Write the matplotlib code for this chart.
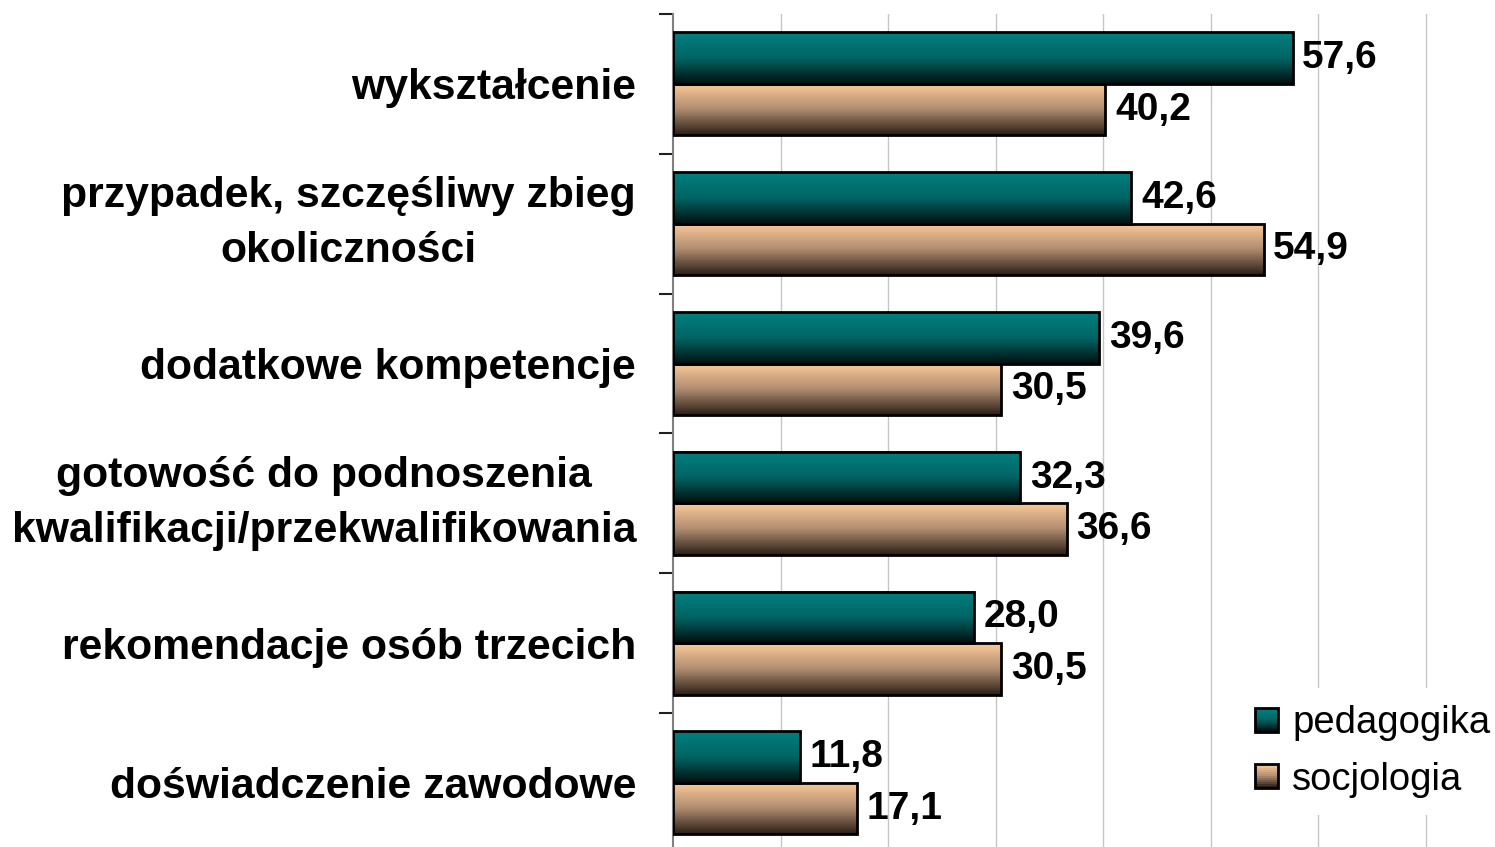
import numpy as np
import matplotlib.pyplot as plt
from matplotlib.colors import LinearSegmentedColormap
from matplotlib.patches import Rectangle, Patch
from matplotlib.legend_handler import HandlerBase

plt.rcParams['font.family'] = ['Liberation Sans', 'DejaVu Sans']

kategorie = [
    'wykształcenie',
    'przypadek, szczęśliwy zbieg\nokoliczności',
    'dodatkowe kompetencje',
    'gotowość do podnoszenia\nkwalifikacji/przekwalifikowania',
    'rekomendacje osób trzecich',
    'doświadczenie zawodowe',
]
pedagogika = [57.6, 42.6, 39.6, 32.3, 28.0, 11.8]
socjologia = [40.2, 54.9, 30.5, 36.6, 30.5, 17.1]
serie = ['pedagogika', 'socjologia']

cmap_ped = LinearSegmentedColormap.from_list('ped', ['#008080', '#006464', '#000e0e'])
cmap_soc = LinearSegmentedColormap.from_list('soc', ['#fccb99', '#b08c70', '#2a1e15'])


class KwadratGradient(HandlerBase):
    # kwadracik legendy z gradientem jak na slupkach
    def __init__(self, cmap):
        super().__init__()
        self.cmap = cmap

    def create_artists(self, legend, orig_handle, xdescent, ydescent, width, height, fontsize, trans):
        n = 12
        out = []
        for k in range(n):
            out.append(Rectangle((-xdescent, -ydescent + height * (n - 1 - k) / n), width, height / n,
                                 facecolor=self.cmap(k / (n - 1)), edgecolor='none', transform=trans))
        out.append(Rectangle((-xdescent, -ydescent), width, height, fill=False,
                             edgecolor='black', lw=2, transform=trans))
        return out


fig = plt.figure(figsize=(14.95, 8.47), dpi=100)
ax = fig.add_axes([673 / 1495, -0.00685, 860.6 / 1495, 838.8 / 847])

y = np.arange(len(kategorie))
h = 0.368
grad = np.linspace(0, 1, 256).reshape(-1, 1)

for wartosci, przes, cmap in [(pedagogika, -h / 2, cmap_ped), (socjologia, h / 2, cmap_soc)]:
    bars = ax.barh(y + przes, wartosci, height=h, fill=False, edgecolor='black', lw=2, zorder=3)
    for b in bars:
        x0, y0, w, hh = b.get_x(), b.get_y(), b.get_width(), b.get_height()
        ax.imshow(grad, cmap=cmap, extent=(x0, x0 + w, y0 + hh, y0), aspect='auto',
                  origin='upper', zorder=2, interpolation='bilinear')
    ax.bar_label(bars, labels=[f'{v:.1f}'.replace('.', ',') for v in wartosci], padding=7,
                 fontsize=28, fontweight='bold', zorder=4)

ax.set_xlim(0, 80)
ax.set_ylim(len(kategorie) - 0.5, -0.5)

ax.set_xticks(np.arange(10, 81, 10))
ax.xaxis.grid(True, color='#c6c6c6', lw=1)
ax.set_axisbelow(True)
ax.tick_params(axis='x', length=0, labelbottom=False)

ax.set_yticks(np.arange(-0.5, len(kategorie), 1))
ax.set_yticklabels([])
ax.tick_params(axis='y', which='major', length=10, width=1.5, color='#202020', direction='out')
ax.set_yticks(y, minor=True)
ax.set_yticklabels(kategorie, minor=True, fontsize=30.8, fontweight='bold', multialignment='center',
                   linespacing=1.5)
ax.tick_params(axis='y', which='minor', length=0, pad=26.6)
for lab in ax.get_yticklabels(minor=True):
    if '\n' in lab.get_text():
        lab.set_verticalalignment('center')

for s in ['top', 'right', 'bottom']:
    ax.spines[s].set_visible(False)
ax.spines['left'].set_color('#808080')
ax.spines['left'].set_linewidth(1.5)

uchwyty = [Patch(label=serie[0]), Patch(label=serie[1])]
leg = fig.legend(handles=uchwyty, labels=serie, loc='upper left',
                 bbox_to_anchor=(1238 / 1495, 1 - 688 / 847), borderaxespad=0, borderpad=0.45,
                 fontsize=27.5, handlelength=0.6, handleheight=0.6, handletextpad=0.37,
                 labelspacing=0.54, frameon=True, fancybox=False, edgecolor='none',
                 facecolor='white', framealpha=1,
                 handler_map={uchwyty[0]: KwadratGradient(cmap_ped), uchwyty[1]: KwadratGradient(cmap_soc)})

fig.savefig('out.png', dpi=100)
